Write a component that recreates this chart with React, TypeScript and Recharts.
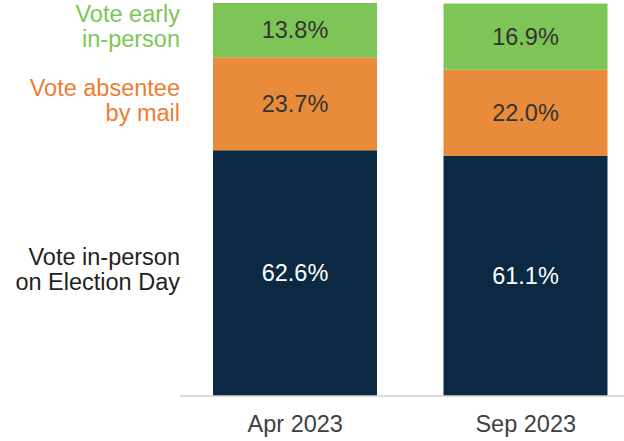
import { BarChart, Bar, XAxis, YAxis, LabelList } from "recharts"

const periods = ["Apr 2023", "Sep 2023"]
const electionDay = [62.6, 61.1]
const absentee = [23.7, 22.0]
const early = [13.8, 16.9]

const data = periods.map((period, i) => ({
  period,
  electionDay: electionDay[i],
  absentee: absentee[i],
  early: early[i],
}))

const FONT = "'Liberation Sans', Arial, sans-serif"
const FS = 23.5

// value inside the segment, plus the series name left of the first bar
function makeLabel(lines: string[], nameColor: string, valueColor: string) {
  return (props: any) => {
    const { x, y, width, height, value, index } = props
    const cy = y + height / 2
    return (
      <g>
        <text
          x={x + width / 2}
          y={cy}
          textAnchor="middle"
          dominantBaseline="central"
          fill={valueColor}
          fontSize={FS}
          fontFamily={FONT}
        >
          {value.toFixed(1)}%
        </text>
        {index === 0 && (
          <text x={x - 33} y={cy} textAnchor="end" fill={nameColor} fontSize={FS} fontFamily={FONT}>
            {lines.map((line, k) => (
              <tspan key={k} x={x - 33} dy={k === 0 ? -(lines.length - 1) * 12 + 4 : 25}>
                {line}
              </tspan>
            ))}
          </text>
        )}
      </g>
    )
  }
}

export default function App() {
  return (
    <div style={{ position: "absolute", left: 0, top: 0, width: 624, height: 441, overflow: "hidden", background: "#fff" }}>
      <BarChart
        width={641}
        height={441}
        data={data}
        margin={{ top: 3, right: 0, left: 180, bottom: 0 }}
        barSize={164}
      >
        <XAxis
          dataKey="period"
          height={45}
          tickLine={false}
          axisLine={{ stroke: "#d0d0d0", strokeWidth: 1.5 }}
          tick={{ fill: "#404040", fontSize: FS, fontFamily: FONT, dy: 11 }}
        />
        <YAxis hide domain={[0, "dataMax"]} />
        <Bar dataKey="electionDay" stackId="a" fill="#0b2942" isAnimationActive={false}>
          <LabelList dataKey="electionDay" content={makeLabel(["Vote in-person", "on Election Day"], "#1f1f1f", "#ffffff")} />
        </Bar>
        <Bar dataKey="absentee" stackId="a" fill="#e88b3b" isAnimationActive={false}>
          <LabelList dataKey="absentee" content={makeLabel(["Vote absentee", "by mail"], "#ec7d32", "#333333")} />
        </Bar>
        <Bar dataKey="early" stackId="a" fill="#7ec557" isAnimationActive={false}>
          <LabelList dataKey="early" content={makeLabel(["Vote early", "in-person"], "#7ec557", "#333333")} />
        </Bar>
      </BarChart>
    </div>
  )
}
